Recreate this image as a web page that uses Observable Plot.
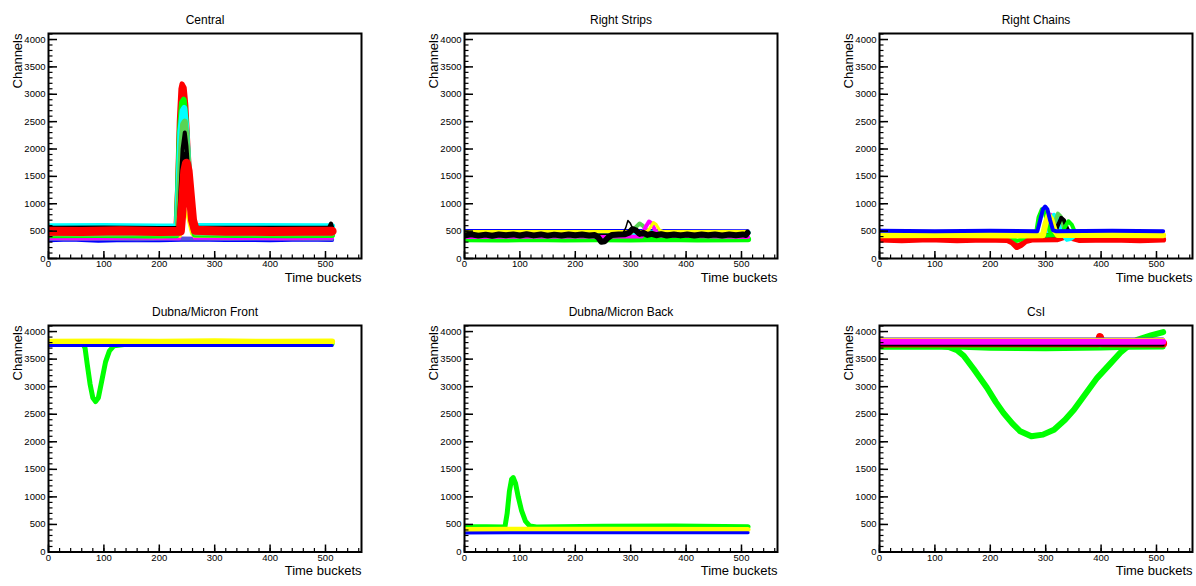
<!DOCTYPE html>
<html><head><meta charset="utf-8">
<script src="https://cdn.jsdelivr.net/npm/d3@7"></script>
<script src="https://cdn.jsdelivr.net/npm/@observablehq/plot@0.6"></script>
<style>
body{margin:0;background:#fff;}
#root{position:relative;width:1196px;height:586px;overflow:hidden;background:#fff;}
.pad{position:absolute;}
</style>
</head><body><div id="root"></div>
<script>
// ---------- axis data ----------
const xDomain = [0, 565];
const yDomain = [0, 4110];
const xLabels = [0, 100, 200, 300, 400, 500];
const yLabels = [0, 500, 1000, 1500, 2000, 2500, 3000, 3500, 4000];
const xMinor = d3.range(0, 561, 20);
const yMinor = d3.range(0, 4101, 100);
const panelTitles = ["Central", "Right Strips", "Right Chains", "Dubna/Micron Front", "Dubna/Micron Back", "CsI"];
const xTitle = "Time buckets";
const yTitle = "Channels";

// ---------- Central ----------
const c_blue = [[0,335],[40,345],[90,325],[140,340],[200,335],[260,345],[320,340],[400,335],[460,345],[512,340]];
const c_purple = [[0,355],[80,362],[160,350],[240,365],[320,355],[420,362],[512,352]];
const c_magenta = [[0,375],[70,370],[150,380],[236,372],[240,900],[244,1700],[247,2000],[250,1700],[254,1000],[259,500],[264,380],[330,375],[420,370],[512,380]];
const c_yellow = [[0,398],[100,402],[200,395],[238,400],[242,650],[247,900],[252,700],[258,450],[263,400],[350,402],[512,398]];
const c_redHi = [[0,525],[60,520],[120,530],[180,520],[230,525],[233,1300],[236,2500],[239,3100],[241,3190],[245,3120],[248,2800],[252,2000],[256,1300],[260,800],[265,540],[320,525],[400,520],[460,525],[512,520]];
const c_green = [[0,425],[90,430],[180,420],[231,425],[234,1300],[237,2300],[241,2850],[244,2900],[247,2600],[251,1900],[255,1200],[259,700],[264,440],[340,430],[430,425],[512,430]];
const c_cyan = [[0,590],[100,595],[200,585],[232,590],[235,1400],[238,2300],[242,2700],[245,2750],[248,2450],[252,1800],[256,1150],[260,700],[265,595],[360,595],[512,590]];
const c_medGreen = [[0,455],[90,450],[180,460],[233,455],[236,1200],[240,2100],[243,2450],[246,2500],[249,2200],[253,1600],[257,1000],[261,600],[266,465],[380,455],[512,460]];
const c_black1 = [[0,560],[100,565],[200,555],[235,560],[238,1200],[242,2000],[246,2300],[249,2050],[253,1500],[257,950],[262,620],[268,565],[400,560],[506,560],[510,640],[512,570]];
const c_black2 = [[0,548],[120,550],[236,548],[240,1000],[244,1700],[247,1920],[250,1750],[254,1250],[258,800],[263,560],[400,550],[512,548]];
const c_redFront = [[0,500],[60,495],[130,505],[200,495],[238,500],[242,1000],[246,1600],[249,1740],[252,1600],[256,1150],[260,700],[265,515],[320,500],[400,495],[460,500],[512,500]];

// ---------- Right Strips ----------
const s_green = [[0,350],[60,345],[120,355],[180,348],[240,352],[300,345],[360,355],[420,348],[512,352]];
const s_blue = [[0,512],[150,510],[300,512],[512,508]];
const s_cyan = [[0,470],[230,470],[238,430],[247,380],[256,390],[265,450],[275,470],[512,470]];
const s_medGreen = [[0,460],[300,460],[308,560],[316,640],[322,600],[330,500],[338,460],[512,460]];
const s_magenta = [[0,395],[320,400],[326,560],[333,676],[338,640],[344,520],[350,420],[512,395]];
const s_yellow = [[0,495],[330,495],[335,560],[341,657],[346,620],[352,520],[358,495],[512,495]];
const s_blackThin = [[0,440],[285,445],[291,560],[295,694],[299,650],[304,540],[310,470],[512,440]];
const s_black = [[0,420],[12,440],[25,418],[38,436],[50,415],[62,438],[75,425],[88,440],[100,420],[112,442],[125,422],[138,440],[150,418],[162,436],[175,420],[188,440],[200,425],[212,438],[225,420],[235,430],[241,390],[247,305],[253,315],[259,380],[266,430],[278,440],[290,445],[297,470],[303,535],[309,515],[316,450],[323,470],[330,430],[338,450],[346,425],[355,445],[365,420],[378,440],[390,422],[402,440],[415,420],[428,438],[440,425],[452,440],[465,420],[478,438],[490,425],[502,440],[508,430],[511,470]];

// ---------- Right Chains ----------
const r_red = [[0,345],[40,335],[90,350],[140,335],[190,345],[230,340],[240,290],[248,210],[256,250],[264,320],[275,345],[320,350],[335,400],[345,380],[360,340],[420,345],[470,335],[512,345]];
const r_green1 = [[0,480],[230,430],[240,380],[248,320],[256,350],[266,420],[280,430],[512,430]];
const r_magenta = [[0,425],[298,425],[303,600],[309,800],[314,760],[320,560],[326,440],[512,425]];
const r_cyan = [[0,425],[304,425],[309,600],[315,800],[320,760],[326,560],[332,420],[338,340],[346,360],[354,425],[512,425]];
const r_medGreen = [[0,425],[310,425],[315,620],[322,820],[327,770],[333,560],[340,430],[512,425]];
const r_black = [[0,425],[316,425],[321,580],[328,745],[333,700],[339,540],[346,430],[512,425]];
const r_green3 = [[0,425],[328,425],[334,560],[341,680],[347,620],[353,480],[360,425],[512,425]];
const r_green2 = [[0,430],[282,430],[287,750],[293,900],[298,850],[304,600],[310,430],[512,430]];
const r_yellow = [[0,425],[120,430],[250,422],[295,425],[300,650],[305,790],[310,720],[316,520],[322,430],[420,428],[512,425]];
const r_blue = [[0,505],[100,500],[200,505],[285,500],[290,700],[295,900],[299,950],[303,900],[308,700],[313,520],[318,500],[420,505],[512,500]];

// ---------- Dubna/Micron Front ----------
const f_green = [[0,3780],[62,3780],[66,3700],[70,3400],[75,3050],[80,2800],[85,2730],[90,2800],[96,3100],[103,3450],[110,3650],[118,3740],[140,3770],[512,3780]];
const f_yellow = [[0,3815],[100,3820],[200,3815],[300,3822],[400,3815],[512,3818]];
const f_blue = [[0,3745],[256,3746],[512,3745]];

// ---------- Dubna/Micron Back ----------
const b_green = [[0,456],[40,460],[73,455],[77,700],[81,1100],[85,1320],[88,1350],[92,1250],[97,1000],[103,750],[110,560],[118,470],[130,455],[250,465],[380,470],[512,460]];
const b_yellow = [[0,410],[256,412],[512,410]];
const b_blue = [[0,347],[256,348],[512,350]];

// ---------- CsI ----------
const i_greenB = [[0,3740],[110,3740],[125,3720],[140,3660],[152,3560],[170,3320],[194,2980],[210,2720],[224,2520],[240,2330],[254,2190],[274,2100],[295,2130],[315,2220],[335,2400],[351,2580],[372,2870],[393,3160],[415,3400],[435,3620],[452,3760],[465,3850],[490,3930],[512,3990]];
const i_greenA = [[0,3714],[150,3714],[200,3695],[300,3690],[400,3700],[450,3714],[512,3720]];
const i_red = [[0,3785],[200,3790],[395,3790],[398,3900],[401,3790],[512,3785]];
const i_black = [[0,3756],[256,3756],[512,3756]];
const i_blue = [[0,3866],[256,3866],[512,3866]];
const i_yellow = [[0,3850],[256,3850],[512,3850]];
const i_magenta = [[0,3817],[256,3817],[512,3817]];

// ---------- colours (ROOT palette) ----------
const ROOT = {
  black: "#000000", red: "#ff0000", green: "#00ff00", blue: "#0000ff",
  yellow: "#ffff00", magenta: "#ff00ff", cyan: "#00ffff",
  medGreen: "#59d454", purple: "#5954d8"
};

const panels = [
  {title: panelTitles[0], col: 0, row: 0, layers: [
    ["blue", c_blue, 4], ["purple", c_purple, 4], ["magenta", c_magenta, 4], ["yellow", c_yellow, 2.5],
    ["red", c_redHi, 5], ["green", c_green, 6], ["cyan", c_cyan, 6], ["medGreen", c_medGreen, 6],
    ["black", c_black1, 4], ["black", c_black2, 4], ["red", c_redFront, 9]]},
  {title: panelTitles[1], col: 1, row: 0, layers: [
    ["green", s_green, 6], ["blue", s_blue, 3], ["cyan", s_cyan, 5], ["medGreen", s_medGreen, 4],
    ["magenta", s_magenta, 4], ["yellow", s_yellow, 3], ["black", s_blackThin, 1.5], ["black", s_black, 6]]},
  {title: panelTitles[2], col: 2, row: 0, layers: [
    ["red", r_red, 6], ["green", r_green1, 4], ["magenta", r_magenta, 4], ["cyan", r_cyan, 4],
    ["medGreen", r_medGreen, 4], ["black", r_black, 4], ["green", r_green3, 4], ["green", r_green2, 4],
    ["yellow", r_yellow, 6], ["blue", r_blue, 4]]},
  {title: panelTitles[3], col: 0, row: 1, layers: [
    ["green", f_green, 5], ["yellow", f_yellow, 6], ["blue", f_blue, 3]]},
  {title: panelTitles[4], col: 1, row: 1, layers: [
    ["green", b_green, 5], ["yellow", b_yellow, 5], ["blue", b_blue, 3]]},
  {title: panelTitles[5], col: 2, row: 1, layers: [
    ["green", i_greenB, 6], ["green", i_greenA, 5], ["red", i_red, 8], ["black", i_black, 3],
    ["blue", i_blue, 3], ["yellow", i_yellow, 4], ["magenta", i_magenta, 6]]}
];

const root = document.getElementById("root");
const colLeft = [0, 415.5, 831];
const rowTop = [0, 292];

for (const p of panels) {
  const innerW = 313, ml = 48, mt = 33, width = 365;
  const innerH = p.row === 0 ? 225 : 226.5;
  const height = p.row === 0 ? 292 : 294;
  const mb = height - mt - innerH;
  const marks = p.layers.map(([c, pts, sw]) => Plot.line(pts, {
    x: d => d[0], y: d => d[1], stroke: ROOT[c], strokeWidth: sw,
    strokeLinejoin: "round", strokeLinecap: "round", clip: true
  }));
  marks.push(
    Plot.frame({stroke: "black", strokeWidth: 2}),
    Plot.ruleX(xLabels, {x: d => d, insetTop: innerH - 7, stroke: "black", strokeWidth: 1.5}),
    Plot.ruleX(xMinor, {x: d => d, insetTop: innerH - 3.5, stroke: "black", strokeWidth: 1.2}),
    Plot.ruleY(yLabels, {y: d => d, insetRight: innerW - 9, stroke: "black", strokeWidth: 1.5}),
    Plot.ruleY(yMinor, {y: d => d, insetRight: innerW - 4.5, stroke: "black", strokeWidth: 1.2}),
    Plot.axisX({ticks: xLabels, tickSize: 0, tickPadding: 2, label: null, tickFormat: d => String(d), fontSize: 9.5}),
    Plot.axisY({ticks: yLabels, tickSize: 0, tickPadding: 3, label: null, tickFormat: d => String(d), fontSize: 9.5}),
    Plot.text([p.title], {text: d => d, frameAnchor: "top", dy: -18, fontSize: 12}),
    Plot.text([xTitle], {text: d => d, frameAnchor: "bottom-right", dy: 23, textAnchor: "end", fontSize: 13}),
    Plot.text([yTitle], {text: d => d, frameAnchor: "top-left", dx: -36, rotate: -90, textAnchor: "end", fontSize: 13})
  );
  const svg = Plot.plot({
    width, height, marginLeft: ml, marginRight: width - ml - innerW, marginTop: mt, marginBottom: mb,
    x: {domain: xDomain}, y: {domain: yDomain},
    style: {fontFamily: "'Liberation Sans', Arial, Helvetica, sans-serif", fontSize: "9.5px", color: "black", background: "white", overflow: "visible"},
    marks
  });
  const div = document.createElement("div");
  div.className = "pad";
  div.style.left = colLeft[p.col] + "px";
  div.style.top = rowTop[p.row] + "px";
  div.appendChild(svg);
  root.appendChild(div);
}
</script>
</body></html>
